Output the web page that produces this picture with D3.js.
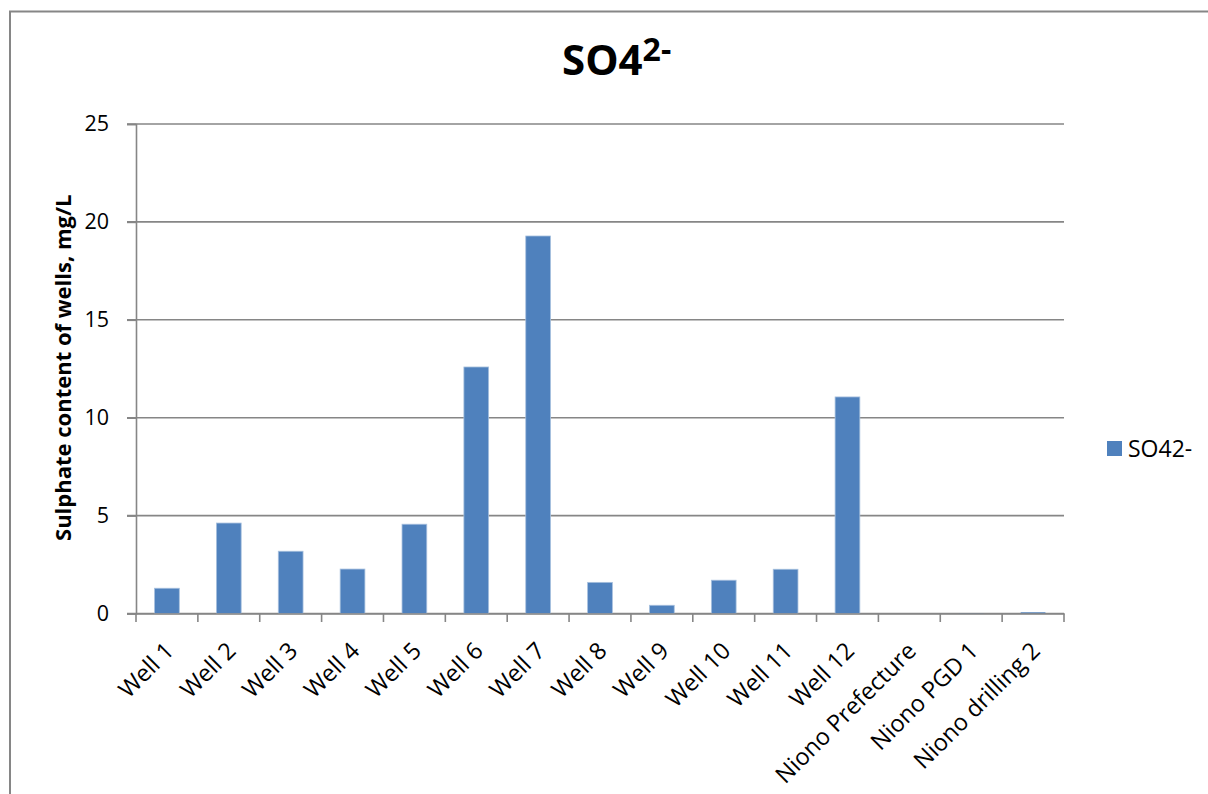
<!DOCTYPE html>
<html>
<head>
<meta charset="utf-8">
<script src="https://cdn.jsdelivr.net/npm/d3@7"></script>
<style>
  body { margin: 0; background: #fff; }
  svg { display: block; font-family: "Open Sans", sans-serif; }
</style>
</head>
<body>
<svg width="1208" height="794"></svg>
<script>
// data
var categories = ["Well 1", "Well 2", "Well 3", "Well 4", "Well 5", "Well 6", "Well 7",
  "Well 8", "Well 9", "Well 10", "Well 11", "Well 12",
  "Niono Prefecture", "Niono PGD 1", "Niono drilling 2"];
var so4Values = [1.29, 4.62, 3.18, 2.27, 4.56, 12.59, 19.28, 1.59, 0.42, 1.70, 2.26, 11.06, 0, 0.02, 0.06];
var yTicks = [0, 5, 10, 15, 20, 25];
var seriesName = "SO42-";

var svg = d3.select("svg");

// outer chart border (right and bottom run off the picture)
svg.append("rect")
  .attr("x", 10).attr("y", 11.5)
  .attr("width", 1400).attr("height", 1000)
  .attr("fill", "none")
  .attr("stroke", "#868686")
  .attr("stroke-width", 2);

/*
 * scales
 */
var x = d3.scaleBand()
  .domain(categories)
  .range([136, 1064])
  .paddingInner(0.6)
  .paddingOuter(0.3);

var y = d3.scaleLinear()
  .domain([0, 25])
  .range([613.5, 124]);

// ### gridlines
svg.append("g")
  .selectAll("line")
  .data(yTicks)
  .enter().append("line")
    .attr("x1", 127).attr("x2", 1064)
    .attr("y1", function(d) { return y(d); })
    .attr("y2", function(d) { return y(d); })
    .attr("stroke", "#868686")
    .attr("stroke-width", 1.6);

// ### y axis
var yAxis = svg.append("g")
  .attr("transform", "translate(136,0)")
  .call(d3.axisLeft(y).tickValues(yTicks).tickSize(9).tickPadding(18));
yAxis.select(".domain").attr("stroke", "#868686").attr("stroke-width", 1.6);
yAxis.selectAll(".tick line").attr("stroke", "#868686").attr("stroke-width", 1.6);
yAxis.selectAll("text")
  .attr("font-family", "Open Sans, sans-serif")
  .attr("font-size", 21.5)
  .attr("fill", "#000");

// ### bars
svg.append("g")
  .selectAll("rect")
  .data(so4Values)
  .enter().append("rect")
    .attr("x", function(d, i) { return x(categories[i]); })
    .attr("y", function(d) { return y(d); })
    .attr("width", x.bandwidth())
    .attr("height", function(d) { return y(0) - y(d); })
    .attr("fill", "#4f81bd")
    .attr("stroke", "#a7c0de")
    .attr("stroke-width", function(d) { return d > 0.1 ? 0.8 : 0; });

// ### x axis
var xAxis = svg.append("g")
  .attr("transform", "translate(0," + y(0) + ")")
  .call(d3.axisBottom(x).tickSize(0).tickFormat(""));
xAxis.select(".domain").attr("stroke", "#868686").attr("stroke-width", 1.6);

// boundary tick marks between categories
var step = x.step();
var bounds = d3.range(categories.length + 1).map(function(i) { return 136 + i * step; });
svg.append("g")
  .selectAll("line")
  .data(bounds)
  .enter().append("line")
    .attr("x1", function(d) { return d; })
    .attr("x2", function(d) { return d; })
    .attr("y1", y(0))
    .attr("y2", y(0) + 8.5)
    .attr("stroke", "#868686")
    .attr("stroke-width", 1.6);

// rotated category labels
svg.append("g")
  .selectAll("text")
  .data(categories)
  .enter().append("text")
    .attr("transform", function(d) {
      return "translate(" + (x(d) + x.bandwidth() / 2 + 2) + ",646) rotate(-45)";
    })
    .attr("text-anchor", "end")
    .attr("dominant-baseline", "central")
    .attr("font-size", 23.5)
    .attr("fill", "#000")
    .text(function(d) { return d; });

// ### title
var title = svg.append("text")
  .attr("x", 562)
  .attr("y", 75)
  .attr("font-size", 42)
  .attr("font-weight", "bold")
  .attr("fill", "#000");
title.append("tspan").text("SO4");
title.append("tspan")
  .attr("dy", -14)
  .attr("font-size", 32)
  .text("2-");

// ### y axis label
svg.append("text")
  .attr("transform", "translate(62," + ((124 + 613.5) / 2 - 1) + ") rotate(-90)")
  .attr("text-anchor", "middle")
  .attr("dominant-baseline", "central")
  .attr("font-size", 22)
  .attr("font-weight", "bold")
  .attr("fill", "#000")
  .text("Sulphate content of wells, mg/L");

// ### legend
var legend = svg.append("g").attr("transform", "translate(1107,441)");
legend.append("rect")
  .attr("width", 15).attr("height", 15)
  .attr("fill", "#4f81bd");
legend.append("text")
  .attr("x", 21)
  .attr("y", 15.5)
  .attr("font-size", 23)
  .attr("fill", "#000")
  .text(seriesName);
</script>
</body>
</html>
